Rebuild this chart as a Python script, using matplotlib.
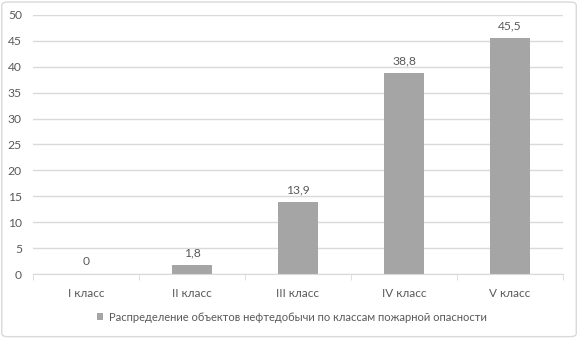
import matplotlib.pyplot as plt
from matplotlib.patches import FancyBboxPatch

categories = ['I класс', 'II класс', 'III класс', 'IV класс', 'V класс']
values = [0, 1.8, 13.9, 38.8, 45.5]
labels = ['0', '1,8', '13,9', '38,8', '45,5']
series_name = 'Распределение объектов нефтедобычи по классам пожарной опасности'

plt.rcParams['font.family'] = ['Lato', 'DejaVu Sans']
text_color = '#595959'
bar_color = '#a5a5a5'
grid_color = '#d9d9d9'

fig = plt.figure(figsize=(5.78, 3.38), dpi=100)
ax = fig.add_axes([0.057, 0.189, 0.917, 0.767])

x = range(len(categories))
bars = ax.bar(x, values, width=0.38, color=bar_color, zorder=3, label=series_name)
for xi, v, lab in zip(x, values, labels):
    ax.text(xi, v + 1.3, lab, ha='center', va='bottom', fontsize=8.7, color=text_color)

ax.set_xlim(-0.5, len(categories) - 0.5)
ax.set_ylim(0, 50)
ax.set_yticks(range(0, 51, 5))
ax.set_xticks(list(x))
ax.set_xticklabels(categories)
ax.set_xticks([i - 0.5 for i in range(len(categories) + 1)], minor=True)

ax.grid(axis='y', color=grid_color, linewidth=1, zorder=0)
for s in ['top', 'right', 'left']:
    ax.spines[s].set_visible(False)
ax.spines['bottom'].set_color(grid_color)
ax.spines['bottom'].set_zorder(4)

ax.tick_params(axis='y', length=0, labelsize=8.7, labelcolor=text_color, pad=8)
ax.tick_params(axis='x', which='major', length=0, labelsize=8.5, labelcolor=text_color, pad=10)
ax.tick_params(axis='x', which='minor', length=4, color=grid_color)

leg = fig.legend(handles=[bars], labels=[series_name], loc='center', bbox_to_anchor=(0.505, 0.062),
                 frameon=False, fontsize=8, handlelength=0.55, handleheight=0.55, handletextpad=0.5)
for t in leg.get_texts():
    t.set_color(text_color)

border = FancyBboxPatch((0.003, 0.004), 0.994, 0.99, boxstyle='round,pad=0,rounding_size=0.01',
                        transform=fig.transFigure, fill=False, edgecolor='#d9d9d9', linewidth=1)
fig.patches.append(border)

fig.savefig('out.png', dpi=100)
